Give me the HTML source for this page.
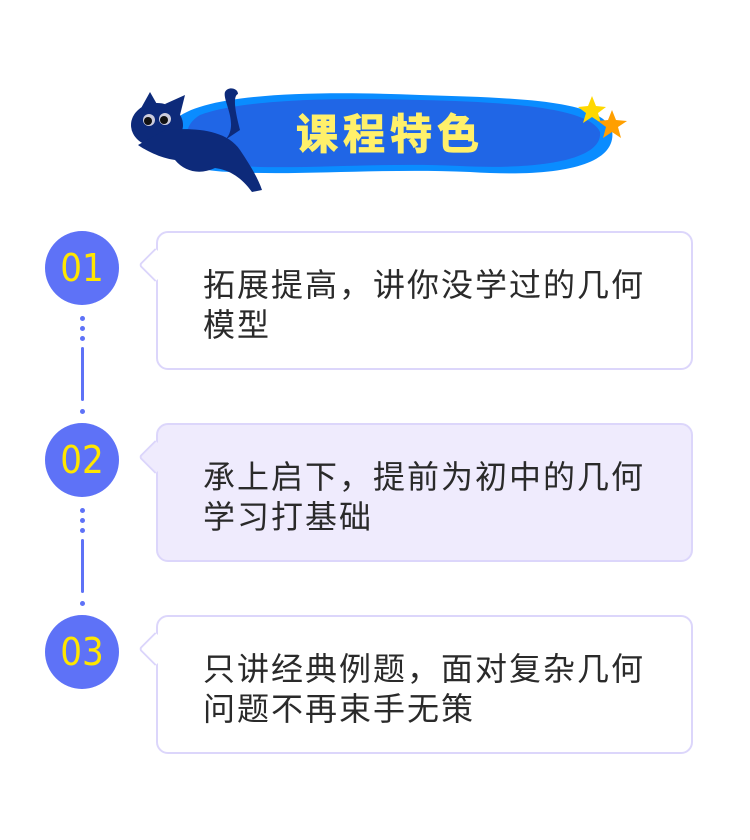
<!DOCTYPE html>
<html><head><meta charset="utf-8"><style>
body{margin:0;width:750px;height:840px;background:#fff;position:relative;overflow:hidden;font-family:"Liberation Sans","Noto Sans CJK SC",sans-serif}
.circ{position:absolute;left:45px;width:74px;height:74px;border-radius:50%;background:#5e72f7;color:#ffe600;font-size:38px;line-height:74px;text-align:center;font-family:"DejaVu Sans Condensed","Liberation Sans",sans-serif}
.box{position:absolute;left:156px;width:533px;height:135px;border:2px solid #dcd6fb;border-radius:12px;background:#fff}
.box.alt{background:#efebfd}
.tail{position:absolute;left:-15px;top:20px;width:22px;height:22px;background:inherit;border-left:2px solid #dcd6fb;border-bottom:2px solid #dcd6fb;transform:rotate(45deg);border-radius:0 0 0 4px}
.txt{position:absolute;left:45px;top:32px;font-size:32px;line-height:40px;letter-spacing:2px;color:#2a2a2a;width:450px}
.dot{position:absolute;left:80px;width:5px;height:5px;border-radius:50%;background:#5e72f7}
.line{position:absolute;left:81px;width:3px;background:#5e72f7;border-radius:2px}
</style></head><body>
<svg style="position:absolute;left:0;top:0" width="750" height="220">
<path d="M175 120 C200 95 300 90 420 95 C520 98 600 100 612 130 C618 165 560 178 470 172 C380 168 300 176 230 172 C170 170 150 145 175 120Z" fill="#0a8cff"/>
<path d="M200 115 C240 100 330 97 420 100 C510 102 590 108 600 132 C603 160 540 170 460 166 C380 162 300 170 240 166 C185 162 175 130 200 115Z" fill="#2066e6"/>
<g fill="#0d2a7a">
<ellipse cx="157" cy="125" rx="26" ry="22"/>
<path d="M140 110 L150 92 L158 106Z M165 104 L185 95 L180 115Z"/>
<path d="M165 130 C190 128 225 128 240 150 C250 165 258 178 262 190 L252 192 C242 178 230 170 215 168 C200 175 185 172 175 160 C160 158 145 150 138 145Z"/>
<path d="M225 140 C240 125 222 100 225 92 C228 86 238 88 238 94 C232 96 236 115 240 130Z"/>
</g>
<circle cx="149" cy="120" r="6" fill="#ccd"/><circle cx="165" cy="119" r="6" fill="#ccd"/>
<circle cx="148" cy="121" r="4" fill="#111"/><circle cx="164" cy="120" r="4" fill="#111"/>
<polygon points="592,96 596,106 606,107 598,113 601,123 592,117 583,123 586,113 578,107 588,106" fill="#ffd800"/>
<polygon points="612,110 616,120 627,121 618,127 621,138 612,132 603,138 606,127 598,121 608,120" fill="#ff9f00"/>
<text x="390" y="149" text-anchor="middle" font-size="42" font-weight="bold" fill="#fff06a" font-family="Liberation Sans,Noto Sans CJK SC,sans-serif" letter-spacing="5" stroke="#fff06a" stroke-width="1">课程特色</text>
</svg>

<div class="circ" style="top:231px">01</div>
<div class="circ" style="top:423px">02</div>
<div class="circ" style="top:615px">03</div>
<div class="dot" style="top:316px"></div><div class="dot" style="top:326px"></div><div class="dot" style="top:336px"></div>
<div class="line" style="top:347px;height:54px"></div><div class="dot" style="top:409px"></div>
<div class="dot" style="top:508px"></div><div class="dot" style="top:518px"></div><div class="dot" style="top:528px"></div>
<div class="line" style="top:539px;height:54px"></div><div class="dot" style="top:601px"></div>

<div class="box" style="top:231px"><div class="tail"></div><div class="txt">拓展提高，讲你没学过的几何模型</div></div>
<div class="box alt" style="top:423px"><div class="tail"></div><div class="txt">承上启下，提前为初中的几何学习打基础</div></div>
<div class="box" style="top:615px"><div class="tail"></div><div class="txt">只讲经典例题，面对复杂几何问题不再束手无策</div></div>
</body></html>
